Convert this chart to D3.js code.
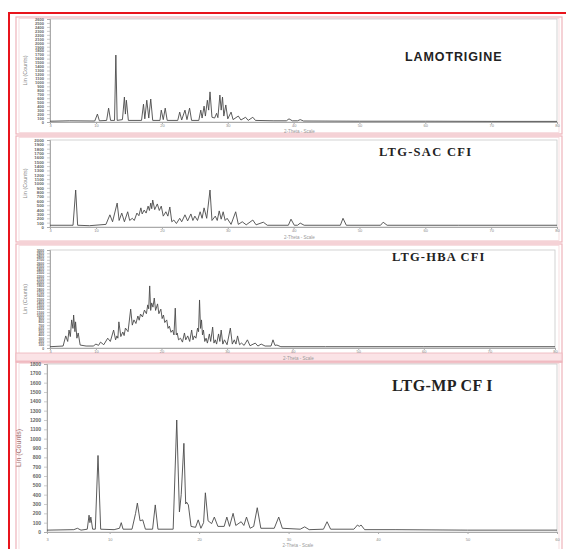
<!DOCTYPE html>
<html><head><meta charset="utf-8">
<script src="https://cdn.jsdelivr.net/npm/d3@7"></script>
<style>html,body{margin:0;padding:0;background:#fff;}svg{display:block;}</style>
</head><body>
<svg id="c" width="566" height="549"></svg>
<script>
// ---------- DATA ----------
const titles = ["LAMOTRIGINE", "LTG-SAC CFI", "LTG-HBA CFI", "LTG-MP CF I"];
const xTicksWide = [3, 10, 20, 30, 40, 50, 60, 70, 80];
const xTicksNarrow = [3, 10, 20, 30, 40, 50, 60];
const xAxisTitle = "2-Theta - Scale";
const yAxisTitle = "Lin (Counts)";
const yMax = [2600, 2000, 3000, 1800];
const yStep = 100;

// [2-theta, counts]
const lamotrigine = [
  [3,20],[6,30],[9.8,25],[10.2,200],[10.5,30],[11.6,40],[11.9,350],[12.2,40],[12.8,40],[13.0,1690],[13.2,40],
  [14.0,60],[14.3,630],[14.45,200],[14.6,550],[14.9,40],[16.9,40],[17.2,450],[17.4,80],[17.7,550],[18.0,100],[18.3,580],[18.6,40],
  [19.7,40],[19.9,300],[20.2,60],[20.5,350],[20.8,40],[22.4,40],[22.7,250],[23.0,50],[23.5,300],[23.8,60],[24.2,350],[24.5,40],
  [25.6,40],[25.9,300],[26.1,100],[26.4,400],[26.6,150],[26.9,550],[27.1,300],[27.3,760],[27.6,120],[28.0,100],[28.3,220],[28.5,110],
  [28.8,680],[29.0,300],[29.2,630],[29.4,150],[29.7,430],[30.0,80],[30.5,250],[30.8,60],[31.6,150],[32.0,50],[32.7,120],[33.1,40],
  [33.8,120],[34.2,40],[37,30],[38.9,30],[39.3,80],[39.8,30],[40.6,30],[41,60],[41.5,25],[50,20],[60,20],[70,15],[80,15]
];
const ltgSac = [
  [3,40],[6.5,40],[6.9,850],[7.2,40],[9,30],[11.5,60],[12.1,280],[12.5,120],[13.2,550],[13.5,150],[13.9,320],[14.3,120],[14.8,350],
  [15.1,150],[15.5,200],[15.8,150],[16.2,320],[16.5,260],[16.8,440],[17.0,300],[17.3,390],[17.6,320],[17.9,480],[18.1,380],[18.3,550],
  [18.45,420],[18.6,620],[18.9,400],[19.3,530],[19.6,380],[19.9,480],[20.2,250],[20.6,350],[20.9,250],[21.2,460],[21.5,120],[21.8,160],
  [22.2,80],[22.7,200],[23.0,120],[23.5,280],[23.9,140],[24.4,300],[24.7,150],[25.0,250],[25.4,150],[25.8,350],[26.1,200],[26.4,440],
  [26.8,200],[27.3,850],[27.6,150],[28.1,250],[28.4,150],[28.7,370],[29.0,180],[29.3,350],[29.6,150],[29.9,200],[30.5,60],[31.2,350],
  [31.6,60],[32.2,120],[32.8,50],[33.8,160],[34.3,50],[35.4,110],[36,40],[39.2,40],[39.6,180],[40.1,40],[40.6,40],[41,90],[41.6,40],
  [47.1,40],[47.5,200],[48,40],[53.2,40],[53.6,110],[54.2,40],[65,40],[80,40]
];
const ltgHba = [
  [3,40],[5,60],[5.4,370],[5.7,200],[5.9,550],[6.1,350],[6.3,860],[6.5,600],[6.6,1010],[6.8,500],[6.9,800],[7.1,300],[7.3,460],[7.6,90],
  [8.5,60],[9.6,60],[10.0,120],[10.4,80],[10.7,180],[11.2,100],[11.8,300],[12.2,200],[12.7,550],[13.0,250],[13.2,370],[13.35,300],[13.5,800],
  [13.8,350],[14.1,490],[14.3,380],[14.5,610],[14.9,500],[15.3,1190],[15.55,700],[15.8,860],[16.1,750],[16.4,980],[16.6,850],[16.8,1040],
  [17.1,950],[17.4,1160],[17.7,1050],[17.9,1320],[18.05,1200],[18.2,1900],[18.35,1150],[18.5,1380],[18.7,1250],[18.9,1530],[19.1,1150],
  [19.4,1350],[19.6,1050],[19.9,1190],[20.1,900],[20.3,1010],[20.5,780],[20.8,860],[21.0,600],[21.2,670],[21.45,480],[21.7,550],[21.9,400],
  [22.1,1220],[22.25,400],[22.4,460],[22.6,250],[22.9,300],[23.2,180],[23.5,460],[23.7,250],[24.0,370],[24.3,200],[24.6,550],[24.8,250],
  [25.0,370],[25.25,300],[25.5,610],[25.65,500],[25.8,1470],[25.95,600],[26.1,860],[26.25,400],[26.4,550],[26.6,200],[26.8,300],[27.0,150],
  [27.3,430],[27.5,200],[27.8,640],[28.0,150],[28.2,250],[28.4,120],[28.7,430],[28.9,200],[29.1,550],[29.35,120],[29.6,250],[30.0,100],
  [30.5,610],[30.8,120],[31.1,250],[31.35,120],[31.6,370],[31.9,100],[32.2,150],[32.6,80],[33.1,250],[33.5,70],[34.3,150],[34.7,60],
  [35.2,120],[35.8,60],[36.7,60],[37.0,250],[37.3,80],[37.6,90],[38.2,40],[45,40],[60,40],[80,40]
];
const ltgMp = [
  [3,20],[6,25],[6.4,40],[6.8,20],[7.5,30],[7.7,180],[7.8,100],[7.9,160],[8.1,30],[8.4,30],[8.7,820],[9.0,30],[10.5,25],[11.1,40],[11.3,100],
  [11.5,30],[12.5,30],[12.9,200],[13.1,310],[13.4,120],[13.7,130],[14.0,30],[14.8,30],[15.1,290],[15.4,30],[17.1,30],[17.5,1200],[17.8,215],
  [18.0,400],[18.3,950],[18.5,300],[18.6,320],[18.8,290],[19.1,60],[19.6,50],[19.9,130],[20.2,40],[20.5,100],[20.7,420],[21.0,120],[21.4,90],
  [21.7,160],[22.1,60],[22.8,60],[23.1,160],[23.4,60],[23.8,200],[24.1,70],[24.7,110],[25.0,70],[25.3,160],[25.7,40],[26.1,60],[26.5,260],
  [26.9,40],[28.4,40],[28.9,160],[29.3,40],[31.3,30],[31.8,55],[32.3,25],[33.9,30],[34.3,110],[34.7,30],[37.3,30],[37.7,75],[37.9,60],
  [38.1,75],[38.5,25],[42,25],[50,20],[60,20]
];
const patterns = [lamotrigine, ltgSac, ltgHba, ltgMp];

// ---------- LAYOUT ----------
const layout = [
  {box:[16,17,562,134], plot:[50,19,557,122], xt:xTicksWide, xd:[3,80], tickY:126, titleY:133, yTitleX:27, label:[405,61], fs:12.5, font:"Liberation Sans", lw:0.9},
  {box:[16,136,562,242], plot:[50,140,557,227], xt:xTicksWide, xd:[3,80], tickY:231.5, titleY:239, yTitleX:27, label:[379,156], fs:12.5, font:"Liberation Serif", lw:1.3},
  {box:[16,244,562,362], plot:[50,250,555,348], xt:xTicksWide, xd:[3,80], tickY:352.5, titleY:359.5, yTitleX:27, label:[392,261], fs:12.5, font:"Liberation Serif", lw:1.2},
  {box:[16,362,562,552], plot:[47,364,557,532], xt:xTicksNarrow, xd:[3,60], tickY:540, titleY:547, yTitleX:21, label:[392,391], fs:16, font:"Liberation Serif", lw:0.4}
];

const svg = d3.select("#c");
// outer red frame
svg.append("rect").attr("x",9).attr("y",13).attr("width",562).attr("height",545)
  .attr("fill","none").attr("stroke","#e8141c").attr("stroke-width",2);

layout.forEach((L, i) => {
  const g = svg.append("g");
  const [bx0,by0,bx1,by1] = L.box;
  const [px0,py0,px1,py1] = L.plot;
  // panel pink frames
  g.append("rect").attr("x",bx0).attr("y",by0).attr("width",bx1-bx0).attr("height",by1-by0)
    .attr("fill","none").attr("stroke","#eeb4bb").attr("stroke-width",1.2);
  g.append("rect").attr("x",bx0+3).attr("y",by0+1.5).attr("width",bx1-bx0-6).attr("height",by1-by0-3)
    .attr("fill","none").attr("stroke","#f6d6da").attr("stroke-width",0.8);
  if (i === 2) {
    g.append("rect").attr("x",bx0).attr("y",by1-9).attr("width",bx1-bx0).attr("height",8)
      .attr("fill","#fbe3e6").attr("stroke","#eeb4bb").attr("stroke-width",0.8);
  }
  const x = d3.scaleLinear().domain(L.xd).range([px0,px1]);
  const y = d3.scaleLinear().domain([0,yMax[i]]).range([py1,py0]);
  // plot frame
  g.append("rect").attr("x",px0).attr("y",py0).attr("width",px1-px0).attr("height",py1-py0)
    .attr("fill","none").attr("stroke","#c9c9c9").attr("stroke-width",0.8);
  // y axis
  const yt = d3.range(0, yMax[i]+1, yStep);
  const ya = g.append("g").attr("transform",`translate(${px0},0)`)
    .call(d3.axisLeft(y).tickValues(yt).tickSize(3).tickFormat(d3.format("d")));
  ya.selectAll("path").attr("stroke","#999").attr("stroke-width",0.8);
  ya.selectAll("line").attr("stroke","#aaa").attr("stroke-width",0.6);
  const yfs = i === 3 ? 5 : Math.min(5, (py1-py0)/yt.length*1.05);
  ya.selectAll("text").attr("font-size",yfs).attr("font-family","Liberation Sans")
    .attr("fill","#666").attr("x",-6).attr("font-weight","bold");
  // x axis
  const xa = g.append("g").attr("transform",`translate(0,${py1})`)
    .call(d3.axisBottom(x).tickValues(L.xt).tickSize(2).tickFormat(d3.format("d")));
  xa.selectAll("path").attr("stroke","#999").attr("stroke-width",0.8);
  xa.selectAll("line").attr("stroke","#aaa");
  xa.selectAll("text").attr("font-size",4).attr("font-family","Liberation Sans").attr("fill","#888")
    .attr("y", L.tickY - py1 - 2);
  // axis titles
  g.append("text").attr("x",(px0+px1)/2 - 4).attr("y",L.titleY).attr("text-anchor","middle")
    .attr("font-size",4.5).attr("font-family","Liberation Sans").attr("fill","#999").text(xAxisTitle);
  g.append("text").attr("transform",`translate(${L.yTitleX},${(py0+py1)/2}) rotate(-90)`)
    .attr("text-anchor","middle").attr("font-size", i===3?7:5.5).attr("font-family","Liberation Sans")
    .attr("fill", i===3 ? "#a07070" : "#888").text(yAxisTitle);
  // pattern
  const line = d3.line().x(d => x(d[0])).y(d => y(d[1]));
  g.append("path").datum(patterns[i]).attr("d",line).attr("fill","none")
    .attr("stroke","#4a4a4a").attr("stroke-width",0.9).attr("stroke-linejoin","round");
  // sample label
  g.append("text").attr("x",L.label[0]).attr("y",L.label[1]).attr("font-size",L.fs)
    .attr("font-family",L.font).attr("font-weight","bold").attr("fill","#222")
    .attr("letter-spacing",L.lw).text(titles[i]);
});
</script>
</body></html>
